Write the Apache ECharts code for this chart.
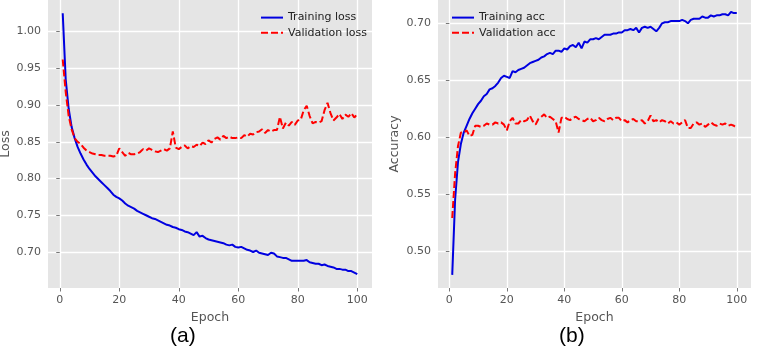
<!DOCTYPE html>
<html>
<head>
<meta charset="utf-8">
<script src="https://cdn.jsdelivr.net/npm/echarts@6/dist/echarts.min.js"></script>
<style>
  html, body { margin: 0; padding: 0; background: #fff; }
  #chart { width: 762px; height: 348px; }
</style>
</head>
<body>
<div id="chart"></div>
<script>
// values, epoch 1..100
var trainLoss = [
  1.025, 0.935, 0.895, 0.870, 0.855, 0.843, 0.834, 0.826, 0.819, 0.813,
  0.808, 0.803, 0.799, 0.795, 0.791, 0.787, 0.783, 0.778, 0.775, 0.773,
  0.770, 0.766, 0.763, 0.761, 0.759, 0.756, 0.754, 0.752, 0.750, 0.748,
  0.746, 0.745, 0.743, 0.741, 0.739, 0.737, 0.736, 0.734, 0.733, 0.731,
  0.730, 0.728, 0.727, 0.725, 0.723, 0.727, 0.721, 0.722, 0.719, 0.717,
  0.716, 0.715, 0.714, 0.713, 0.712, 0.710, 0.709, 0.710, 0.707, 0.706,
  0.707, 0.705, 0.703, 0.702, 0.700, 0.702, 0.699, 0.698, 0.697, 0.696,
  0.699, 0.698, 0.694, 0.693, 0.692, 0.692, 0.690, 0.688, 0.688, 0.688,
  0.688, 0.688, 0.689, 0.686, 0.685, 0.684, 0.684, 0.682, 0.683, 0.681,
  0.680, 0.679, 0.677, 0.677, 0.676, 0.676, 0.674, 0.674, 0.672, 0.670
];
var valLoss = [
  0.962, 0.918, 0.885, 0.867, 0.855, 0.850, 0.847, 0.842, 0.838, 0.836,
  0.834, 0.833, 0.832, 0.832, 0.831, 0.831, 0.831, 0.830, 0.831, 0.841,
  0.836, 0.831, 0.835, 0.833, 0.833, 0.834, 0.836, 0.840, 0.838, 0.841,
  0.839, 0.837, 0.836, 0.838, 0.840, 0.838, 0.841, 0.864, 0.842, 0.840,
  0.843, 0.845, 0.841, 0.844, 0.843, 0.846, 0.844, 0.849, 0.847, 0.852,
  0.849, 0.854, 0.856, 0.853, 0.858, 0.855, 0.857, 0.855, 0.855, 0.856,
  0.855, 0.859, 0.857, 0.861, 0.860, 0.863, 0.864, 0.867, 0.862, 0.866,
  0.864, 0.866, 0.866, 0.884, 0.868, 0.876, 0.872, 0.877, 0.873, 0.879,
  0.880, 0.893, 0.899, 0.885, 0.875, 0.877, 0.876, 0.878, 0.893, 0.903,
  0.889, 0.879, 0.883, 0.888, 0.881, 0.887, 0.884, 0.889, 0.883, 0.888
];
var trainAcc = [
  0.479, 0.545, 0.578, 0.594, 0.604, 0.610, 0.616, 0.621, 0.625, 0.629,
  0.632, 0.636, 0.638, 0.642, 0.643, 0.645, 0.648, 0.652, 0.654, 0.653,
  0.652, 0.658, 0.657, 0.659, 0.660, 0.661, 0.663, 0.665, 0.666, 0.667,
  0.668, 0.670, 0.671, 0.673, 0.674, 0.673, 0.676, 0.676, 0.675, 0.678,
  0.677, 0.680, 0.681, 0.679, 0.683, 0.678, 0.684, 0.683, 0.686, 0.686,
  0.687, 0.686, 0.688, 0.690, 0.690, 0.690, 0.691, 0.691, 0.692, 0.692,
  0.694, 0.694, 0.695, 0.694, 0.696, 0.692, 0.696, 0.697, 0.696, 0.697,
  0.695, 0.693, 0.696, 0.700, 0.701, 0.701, 0.702, 0.702, 0.702, 0.702,
  0.703, 0.702, 0.700, 0.703, 0.704, 0.704, 0.704, 0.706, 0.705, 0.705,
  0.707, 0.706, 0.707, 0.707, 0.708, 0.708, 0.707, 0.710, 0.709, 0.709
];
var valAcc = [
  0.529, 0.568, 0.592, 0.604, 0.604, 0.606, 0.601, 0.602, 0.610, 0.610,
  0.609, 0.610, 0.612, 0.611, 0.611, 0.613, 0.612, 0.613, 0.611, 0.606,
  0.614, 0.617, 0.612, 0.612, 0.615, 0.614, 0.615, 0.619, 0.614, 0.611,
  0.616, 0.618, 0.620, 0.617, 0.618, 0.616, 0.614, 0.604, 0.617, 0.618,
  0.616, 0.615, 0.617, 0.618, 0.616, 0.615, 0.614, 0.616, 0.617, 0.614,
  0.615, 0.617, 0.615, 0.614, 0.616, 0.617, 0.615, 0.617, 0.617, 0.614,
  0.615, 0.613, 0.615, 0.616, 0.614, 0.614, 0.615, 0.612, 0.614, 0.619,
  0.614, 0.615, 0.613, 0.615, 0.614, 0.612, 0.614, 0.612, 0.613, 0.611,
  0.613, 0.615, 0.608, 0.608, 0.612, 0.613, 0.611, 0.612, 0.609, 0.611,
  0.613, 0.611, 0.610, 0.612, 0.611, 0.612, 0.610, 0.611, 0.610, 0.608
];
var epochTicks = [0, 20, 40, 60, 80, 100];
var lossTicks = [0.70, 0.75, 0.80, 0.85, 0.90, 0.95, 1.00];
var accTicks = [0.50, 0.55, 0.60, 0.65, 0.70];

function pairs (arr) {
    return arr.map(function (v, i) { return [i + 1, v]; });
}

var gray = '#555555';
var font = 'DejaVu Sans';

function xAxisFor (gridIndex) {
    return {
        type: 'value',
        gridIndex: gridIndex,
        min: -3.95,
        max: 104.95,
        minInterval: 20,
        maxInterval: 20,
        name: 'Epoch',
        nameLocation: 'middle',
        nameGap: 23,
        nameTextStyle: { color: gray, fontFamily: font, fontSize: 12.5 },
        axisLine: { show: false },
        axisTick: { show: true, length: 3.5, customValues: epochTicks, lineStyle: { color: gray, width: 0.8 } },
        axisLabel: { color: gray, fontFamily: font, fontSize: 11, margin: 7, customValues: epochTicks },
        splitLine: { show: true, lineStyle: { color: '#ffffff', width: 1.3 } }
    };
}

function yAxisFor (gridIndex, min, max, ticks, name, gap) {
    return {
        type: 'value',
        gridIndex: gridIndex,
        min: min,
        max: max,
        minInterval: 0.05,
        maxInterval: 0.05,
        name: name,
        nameLocation: 'middle',
        nameGap: gap,
        nameTextStyle: { color: gray, fontFamily: font, fontSize: 12.5 },
        axisLine: { show: false },
        axisTick: { show: true, length: 3.5, customValues: ticks, lineStyle: { color: gray, width: 0.8 } },
        axisLabel: {
            color: gray, fontFamily: font, fontSize: 11, margin: 7, customValues: ticks,
            formatter: function (v) { return v.toFixed(2); }
        },
        splitLine: { show: true, lineStyle: { color: '#ffffff', width: 1.3 } }
    };
}

var blue = '#0000e0';
var red = '#ff0000';

function legendFor (names, left) {
    return {
        data: names,
        left: left, top: 6, orient: 'vertical',
        itemWidth: 22, itemHeight: 14, itemGap: 2,
        itemStyle: { opacity: 0 },
        textStyle: { color: '#222', fontFamily: font, fontSize: 11 }
    };
}

var option = {
    animation: false,
    grid: [
        { left: 48, top: 0, width: 324, height: 288, show: true, backgroundColor: '#e5e5e5', borderWidth: 0, outerBoundsMode: 'none' },
        { left: 438, top: 0, width: 313, height: 288, show: true, backgroundColor: '#e5e5e5', borderWidth: 0, outerBoundsMode: 'none' }
    ],
    xAxis: [xAxisFor(0), xAxisFor(1)],
    yAxis: [
        yAxisFor(0, 0.651, 1.043, lossTicks, 'Loss', 34),
        yAxisFor(1, 0.4675, 0.7205, accTicks, 'Accuracy', 37)
    ],
    legend: [
        legendFor(['Training loss', 'Validation loss'], 255),
        legendFor(['Training acc', 'Validation acc'], 446)
    ],
    graphic: [
        { type: 'text', left: 170, top: 326, style: { text: '(a)', font: '21px "Liberation Sans"', fill: '#000' } },
        { type: 'text', left: 559, top: 326, style: { text: '(b)', font: '21px "Liberation Sans"', fill: '#000' } }
    ],
    series: [
        {
            name: 'Training loss', type: 'line', xAxisIndex: 0, yAxisIndex: 0,
            showSymbol: false, data: pairs(trainLoss),
            lineStyle: { color: blue, width: 2 }, itemStyle: { color: blue }
        },
        {
            name: 'Validation loss', type: 'line', xAxisIndex: 0, yAxisIndex: 0,
            showSymbol: false, data: pairs(valLoss),
            lineStyle: { color: red, width: 2, type: [7, 3] }, itemStyle: { color: red }
        },
        {
            name: 'Training acc', type: 'line', xAxisIndex: 1, yAxisIndex: 1,
            showSymbol: false, data: pairs(trainAcc),
            lineStyle: { color: blue, width: 2 }, itemStyle: { color: blue }
        },
        {
            name: 'Validation acc', type: 'line', xAxisIndex: 1, yAxisIndex: 1,
            showSymbol: false, data: pairs(valAcc),
            lineStyle: { color: red, width: 2, type: [7, 3] }, itemStyle: { color: red }
        }
    ]
};

var chart = echarts.init(document.getElementById('chart'), null, { renderer: 'canvas' });
chart.setOption(option);
</script>
</body>
</html>
